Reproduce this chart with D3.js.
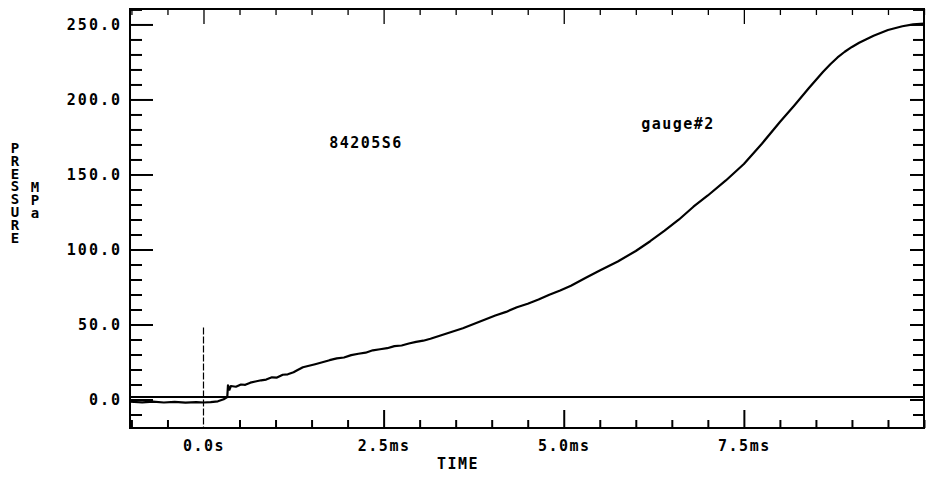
<!DOCTYPE html>
<html>
<head>
<meta charset="utf-8">
<script src="https://cdn.jsdelivr.net/npm/d3@7"></script>
<style>
  html, body { margin: 0; padding: 0; background: #fff; }
  svg text { font-family: "DejaVu Sans Mono", "Liberation Mono", monospace; font-weight: bold; fill: #000; }
  .vert { writing-mode: vertical-rl; text-orientation: upright; }
</style>
</head>
<body>
<svg id="chart" width="931" height="481"></svg>
<script>
// ---- data ----
const timeMs = [-1.02,-0.85,-0.7,-0.55,-0.4,-0.25,-0.1,0.0,0.1,0.2,0.28,0.33,0.34,0.36,0.38,0.45,0.52,0.58,0.65,0.72,0.8,0.87,0.95,1.02,1.1,1.17,1.25,1.3,1.38,1.45,1.55,1.65,1.75,1.85,1.95,2.05,2.15,2.25,2.35,2.45,2.55,2.65,2.75,2.85,2.95,3.05,3.15,3.3,3.45,3.6,3.75,3.9,4.05,4.2,4.35,4.5,4.65,4.8,4.95,5.1,5.3,5.5,5.75,6.0,6.2,6.4,6.6,6.8,7.0,7.25,7.5,7.75,8.0,8.2,8.4,8.6,8.7,8.8,8.9,9.0,9.1,9.2,9.3,9.5,9.7,9.85,10.0];
const pressureMPa = [-1.5,-1.9,-1.4,-2.0,-1.6,-2.1,-1.7,-2.0,-1.8,-1.2,0.2,1.6,9.5,6.5,9,8.5,10,9.8,11.2,12,12.8,13.3,14.8,14.6,16.5,16.8,18.2,19.5,21.5,22.3,23.5,24.8,26.2,27.4,28,29.6,30.5,31.2,32.8,33.5,34.2,35.6,36,37.3,38.4,39.2,40.5,42.8,45.2,47.5,50.3,53.2,56,58.4,61.5,63.8,66.6,69.8,72.6,75.8,81,86,92,99,105.5,112.5,120,128.5,136,146,157,170.5,185,196,207.5,218.5,223.5,228,231.8,235,237.8,240.2,242.5,246.3,248.8,250,250.5];
const yMajorTicks = [0, 50, 100, 150, 200, 250];
const yTickLabels = ["0.0", "50.0", "100.0", "150.0", "200.0", "250.0"];
const xMajorTicks = [0, 2.5, 5, 7.5];
const xTickLabels = ["0.0s", "2.5ms", "5.0ms", "7.5ms"];
const baselineValue = 1.7;
const triggerTime = 0;
const triggerTop = 48;
const yTitle = "PRESSURE";
const unitTitle = "MPa";
const xTitle = "TIME";
const runLabel = "84205S6";
const gaugeLabel = "gauge#2";

// ---- layout ----
const L = 130, R = 924, T = 9, B = 428;
const svg = d3.select("#chart");
const x = d3.scaleLinear().domain([-1.02, 10.0]).range([L, R]);
const y = d3.scaleLinear().domain([-19, 260.3]).range([B, T]);

const yMinor = d3.range(-10, 261, 10).filter(v => !yMajorTicks.includes(v));
const xMinor = d3.range(-1.0, 10.01, 0.5).map(v => +v.toFixed(2)).filter(v => !xMajorTicks.includes(v));

const ink = "#000";
function styleAxis(g) {
  g.select(".domain").remove();
  g.selectAll(".tick line").attr("stroke", ink).attr("stroke-width", 2);
}
function styleLabels(g, ls) {
  g.selectAll("text").attr("font-size", 15).attr("letter-spacing", ls)
    .style("font-family", '"DejaVu Sans Mono", monospace').style("font-weight", "bold");
}

// left axis: minor + major, ticks inward
svg.append("g").attr("transform", `translate(${L},0)`)
  .call(d3.axisLeft(y).tickValues(yMinor).tickSize(-12).tickFormat(""))
  .call(styleAxis);
svg.append("g").attr("transform", `translate(${L},0)`)
  .call(d3.axisLeft(y).tickValues(yMajorTicks).tickSize(-23).tickPadding(8)
        .tickFormat((d, i) => yTickLabels[i]))
  .call(styleAxis)
  .call(g => styleLabels(g, 2));

// right axis
svg.append("g").attr("transform", `translate(${R},0)`)
  .call(d3.axisRight(y).tickValues(yMinor).tickSize(-11).tickFormat(""))
  .call(styleAxis);
svg.append("g").attr("transform", `translate(${R},0)`)
  .call(d3.axisRight(y).tickValues(yMajorTicks).tickSize(-14).tickFormat(""))
  .call(styleAxis);

// bottom axis
svg.append("g").attr("transform", `translate(0,${B})`)
  .call(d3.axisBottom(x).tickValues(xMinor).tickSize(-8).tickFormat(""))
  .call(styleAxis);
svg.append("g").attr("transform", `translate(0,${B})`)
  .call(d3.axisBottom(x).tickValues(xMajorTicks.filter(v => v !== triggerTime)).tickSize(-18).tickFormat(""))
  .call(styleAxis);
svg.append("g").attr("transform", `translate(0,${B})`)
  .call(d3.axisBottom(x).tickValues(xMajorTicks).tickSize(0).tickPadding(12)
        .tickFormat((d, i) => xTickLabels[i]))
  .call(g => g.select(".domain").remove())
  .call(g => styleLabels(g, 1.5));

// top axis
svg.append("g").attr("transform", `translate(0,${T})`)
  .call(d3.axisTop(x).tickValues(xMinor).tickSize(-6).tickFormat(""))
  .call(styleAxis)
  .call(g => g.selectAll(".tick line").attr("stroke-width", 1.3));
svg.append("g").attr("transform", `translate(0,${T})`)
  .call(d3.axisTop(x).tickValues(xMajorTicks).tickSize(-15).tickFormat(""))
  .call(styleAxis)
  .call(g => g.selectAll(".tick line").attr("stroke-width", 1.3));

// frame
svg.append("rect").attr("x", L).attr("y", T).attr("width", R - L).attr("height", B - T)
  .attr("fill", "none").attr("stroke", ink).attr("stroke-width", 2);

// trigger marker (dashed vertical)
svg.append("line")
  .attr("x1", x(triggerTime)).attr("x2", x(triggerTime))
  .attr("y1", y(triggerTop)).attr("y2", B)
  .attr("stroke", ink).attr("stroke-width", 1.2).attr("stroke-dasharray", "7,2");

// baseline
svg.append("line")
  .attr("x1", L).attr("x2", R).attr("y1", y(baselineValue)).attr("y2", y(baselineValue))
  .attr("stroke", ink).attr("stroke-width", 2);

// trace
const pts = timeMs.map((t, i) => [t, pressureMPa[i]]);
svg.append("path").datum(pts)
  .attr("fill", "none").attr("stroke", ink).attr("stroke-width", 2.2)
  .attr("stroke-linejoin", "round")
  .attr("d", d3.line().x(d => x(d[0])).y(d => y(d[1])));

// axis titles (vertical stacked letters)
svg.append("text").attr("class", "vert")
  .attr("x", 15).attr("y", 140)
  .attr("font-size", 14).attr("letter-spacing", -3.2).text(yTitle);
svg.append("text").attr("class", "vert")
  .attr("x", 35).attr("y", 179)
  .attr("font-size", 14).attr("letter-spacing", -3.2).text(unitTitle);

svg.append("text").attr("x", 458).attr("y", 469).attr("text-anchor", "middle")
  .attr("font-size", 15).attr("letter-spacing", 1.5).text(xTitle);

svg.append("text").attr("x", 366).attr("y", 148).attr("text-anchor", "middle")
  .attr("font-size", 15).attr("letter-spacing", 1.5).text(runLabel);
svg.append("text").attr("x", 678).attr("y", 129).attr("text-anchor", "middle")
  .attr("font-size", 15).attr("letter-spacing", 1.5).text(gaugeLabel);
</script>
</body>
</html>
